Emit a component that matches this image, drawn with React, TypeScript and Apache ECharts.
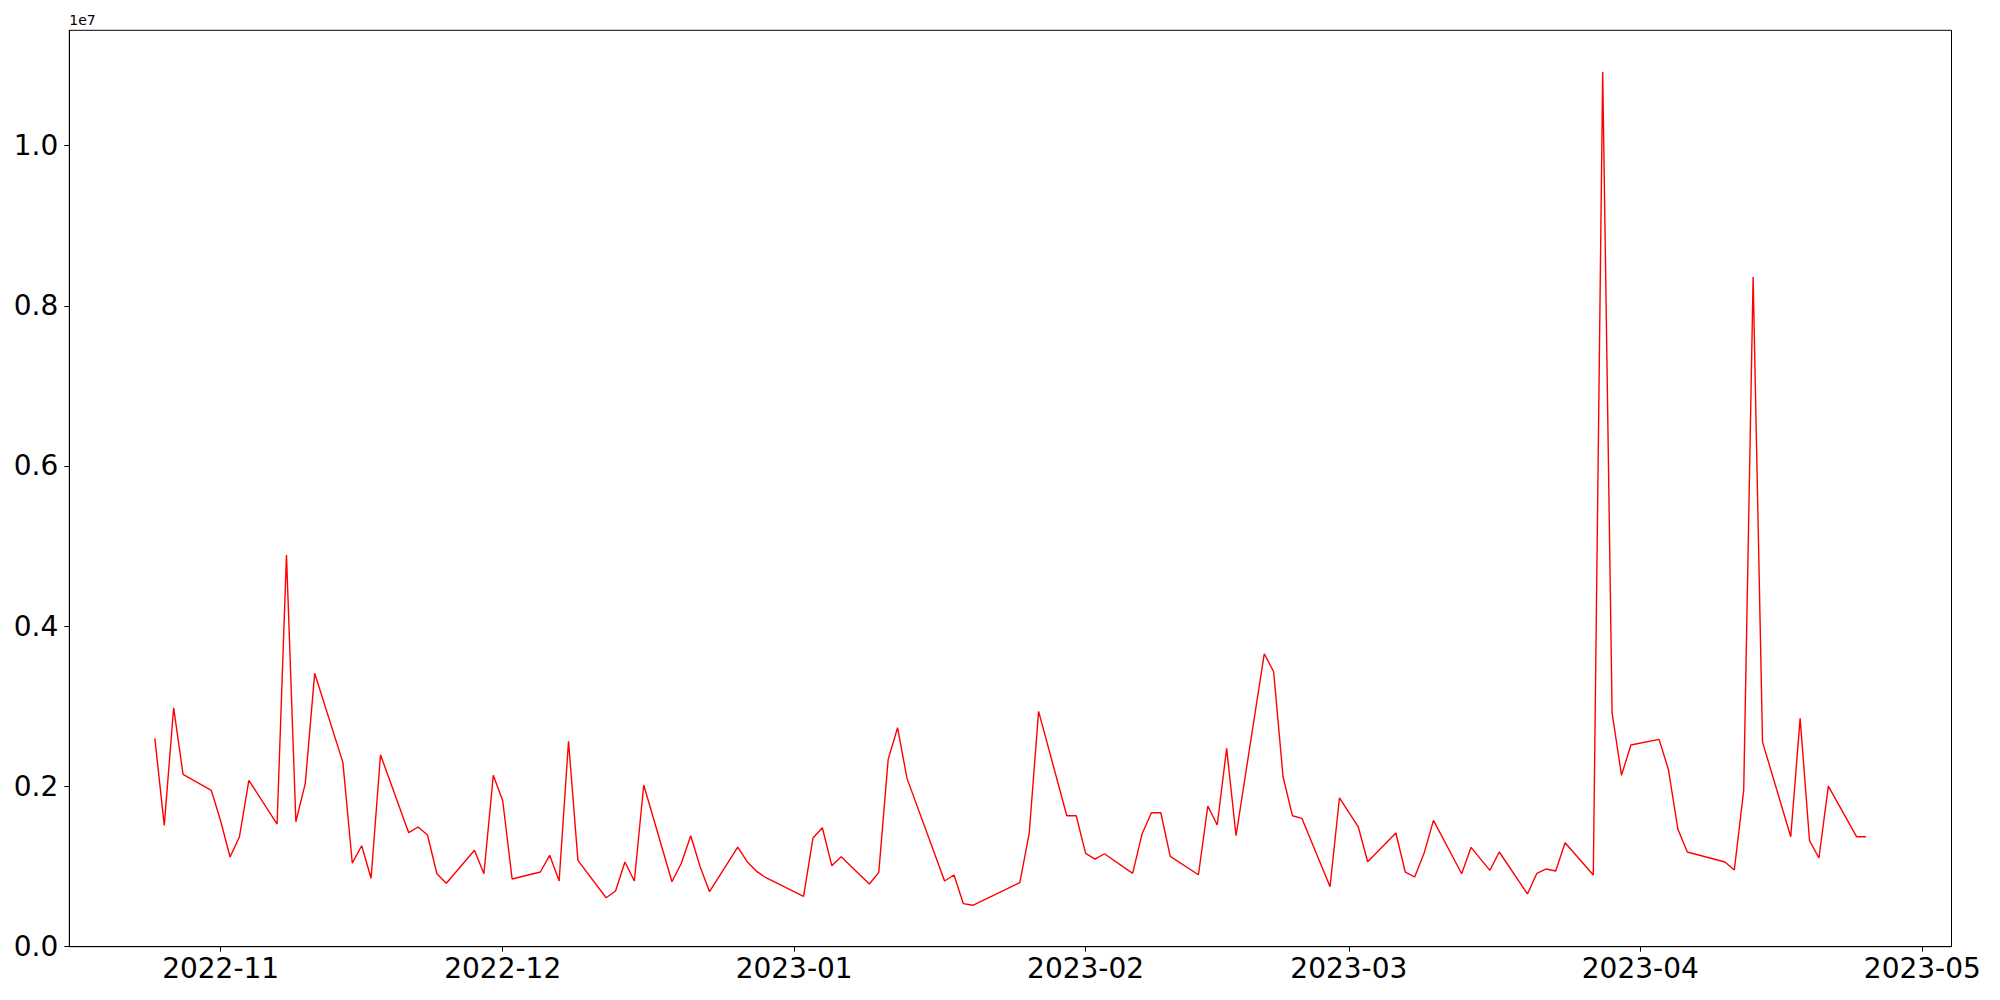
import React, { useEffect, useRef } from "react";
import * as echarts from "echarts";

const dates: string[] = [
  "2022-10-25", "2022-10-26", "2022-10-27", "2022-10-28", "2022-10-31",
  "2022-11-01", "2022-11-02", "2022-11-03", "2022-11-04", "2022-11-07",
  "2022-11-08", "2022-11-09", "2022-11-10", "2022-11-11", "2022-11-14",
  "2022-11-15", "2022-11-16", "2022-11-17", "2022-11-18", "2022-11-21",
  "2022-11-22", "2022-11-23", "2022-11-24", "2022-11-25", "2022-11-28",
  "2022-11-29", "2022-11-30", "2022-12-01", "2022-12-02", "2022-12-05",
  "2022-12-06", "2022-12-07", "2022-12-08", "2022-12-09", "2022-12-12",
  "2022-12-13", "2022-12-14", "2022-12-15", "2022-12-16", "2022-12-19",
  "2022-12-20", "2022-12-21", "2022-12-22", "2022-12-23", "2022-12-26",
  "2022-12-27", "2022-12-28", "2022-12-29", "2023-01-02", "2023-01-03",
  "2023-01-04", "2023-01-05", "2023-01-06", "2023-01-09", "2023-01-10",
  "2023-01-11", "2023-01-12", "2023-01-13", "2023-01-17", "2023-01-18",
  "2023-01-19", "2023-01-20", "2023-01-25", "2023-01-26", "2023-01-27",
  "2023-01-30", "2023-01-31", "2023-02-01", "2023-02-02", "2023-02-03",
  "2023-02-06", "2023-02-07", "2023-02-08", "2023-02-09", "2023-02-10",
  "2023-02-13", "2023-02-14", "2023-02-15", "2023-02-16", "2023-02-17",
  "2023-02-20", "2023-02-21", "2023-02-22", "2023-02-23", "2023-02-24",
  "2023-02-27", "2023-02-28", "2023-03-02", "2023-03-03", "2023-03-06",
  "2023-03-07", "2023-03-08", "2023-03-09", "2023-03-10", "2023-03-13",
  "2023-03-14", "2023-03-16", "2023-03-17", "2023-03-20", "2023-03-21",
  "2023-03-22", "2023-03-23", "2023-03-24", "2023-03-27", "2023-03-28",
  "2023-03-29", "2023-03-30", "2023-03-31", "2023-04-03", "2023-04-04",
  "2023-04-05", "2023-04-06", "2023-04-10", "2023-04-11", "2023-04-12",
  "2023-04-13", "2023-04-14", "2023-04-17", "2023-04-18", "2023-04-19",
  "2023-04-20", "2023-04-21", "2023-04-24", "2023-04-25",
];

const values: number[] = [
  2600000, 1515000, 2982000, 2151000, 1952000,
  1569000, 1119000, 1373000, 2076000, 1531000,
  4888000, 1560000, 2039000, 3412000, 2301000,
  1044000, 1260000, 854000, 2396000, 1423000,
  1494000, 1394000, 911000, 791000, 1203000,
  911000, 2139000, 1822000, 845000, 932000,
  1140000, 820000, 2563000, 1078000, 611000,
  695000, 1057000, 820000, 2018000, 811000,
  1041000, 1385000, 998000, 686000, 1244000,
  1061000, 941000, 861000, 629000, 1356000,
  1485000, 1011000, 1123000, 782000, 928000,
  2338000, 2733000, 2101000, 820000, 895000,
  537000, 517000, 799000, 1415000, 2937000,
  1635000, 1635000, 1165000, 1094000, 1160000,
  916000, 1406000, 1672000, 1672000, 1128000,
  898000, 1756000, 1519000, 2476000, 1385000,
  3656000, 3432000, 2121000, 1635000, 1602000,
  749000, 1859000, 1497000, 1061000, 1419000,
  932000, 870000, 1165000, 1577000, 911000,
  1240000, 953000, 1182000, 658000, 916000,
  970000, 945000, 1298000, 895000, 10918000,
  2920000, 2139000, 2517000, 2588000, 2205000,
  1465000, 1182000, 1057000, 957000, 1955000,
  8360000, 2554000, 1373000, 2850000, 1323000,
  1107000, 2005000, 1373000, 1373000,
];

const yTickStep = 2000000;
const yScaleText = "1e7";

const DAY = 86400000;

function toTs(s: string): number {
  const [y, m, d] = s.split("-").map(Number);
  return new Date(y, m - 1, d).getTime();
}

export default function App() {
  const ref = useRef<HTMLDivElement>(null);

  useEffect(() => {
    if (!ref.current) return;
    const chart = echarts.init(ref.current, undefined, { renderer: "svg" });

    const ts = dates.map(toTs);
    const data = ts.map((t, i) => [t, values[i]]);
    const tMin = Math.min(...ts);
    const tMax = Math.max(...ts);
    const tPad = (tMax - tMin) * 0.05;
    const vMax = Math.max(...values);
    const vMin = Math.min(...values);
    const yMax = vMax + (vMax - vMin) * 0.05;

    const font = "DejaVu Sans";

    chart.setOption({
      animation: false,
      backgroundColor: "#fff",
      grid: {
        left: 69.3,
        top: 30.3,
        right: 48.5,
        bottom: 53.3,
        show: true,
        borderColor: "#000",
        borderWidth: 1,
        backgroundColor: "transparent",
      },
      xAxis: {
        type: "time",
        min: tMin - tPad,
        max: tMax + tPad,
        minInterval: 28 * DAY,
        maxInterval: 31 * DAY,
        splitLine: { show: false },
        axisLine: { show: true, lineStyle: { color: "#000", width: 1 } },
        axisTick: { show: true, length: 5, lineStyle: { color: "#000", width: 1 } },
        axisLabel: {
          showMinLabel: false,
          showMaxLabel: false,
          fontSize: 28,
          fontFamily: font,
          color: "#000",
          margin: 8,
          formatter: (val: number) => {
            const d = new Date(val);
            return `${d.getFullYear()}-${String(d.getMonth() + 1).padStart(2, "0")}`;
          },
        },
      },
      yAxis: {
        type: "value",
        min: 0,
        max: yMax,
        interval: yTickStep,
        name: yScaleText,
        nameLocation: "end",
        nameGap: 3,
        nameTextStyle: {
          align: "left",
          verticalAlign: "bottom",
          fontSize: 14,
          fontFamily: font,
          color: "#000",
        },
        splitLine: { show: false },
        axisLine: { show: true, lineStyle: { color: "#000", width: 1 } },
        axisTick: { show: true, length: 5, lineStyle: { color: "#000", width: 1 } },
        axisLabel: {
          fontSize: 28,
          fontFamily: font,
          color: "#000",
          margin: 11,
          showMaxLabel: false,
          formatter: (v: number) => {
            const r = v / yTickStep;
            if (Math.abs(r - Math.round(r)) > 1e-6) return "";
            return (v / 1e7).toFixed(1);
          },
        },
      },
      series: [
        {
          type: "line",
          data,
          showSymbol: false,
          symbol: "none",
          lineStyle: { color: "#ff0000", width: 1.4 },
          itemStyle: { color: "#ff0000" },
        },
      ],
    });

    return () => chart.dispose();
  }, []);

  return (
    <div
      ref={ref}
      style={{ position: "fixed", left: 0, top: 0, width: 2000, height: 1000 }}
    />
  );
}
